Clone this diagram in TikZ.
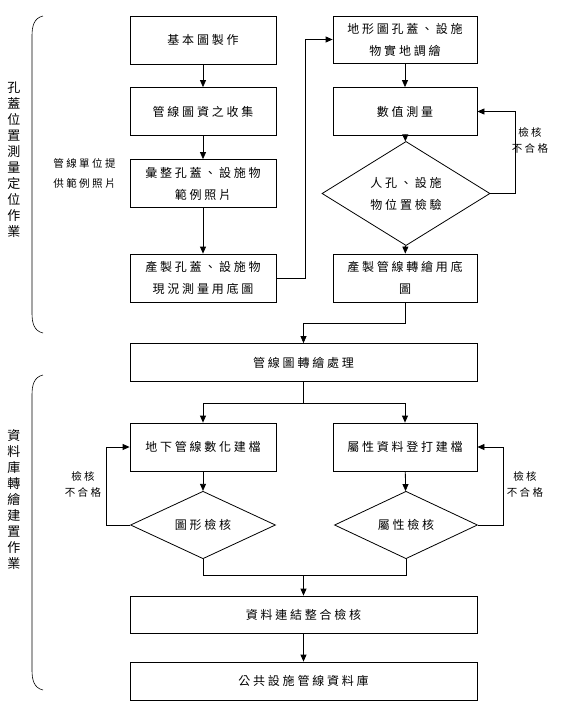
\documentclass[tikz,border=0pt]{standalone}
\usepackage{fontspec}
\newfontfamily\cjk[LetterSpace=23]{Noto Sans CJK TC}
\usetikzlibrary{shapes.geometric,arrows.meta}
\begin{document}
\begin{tikzpicture}[x=1pt, y=-1pt, line width=0.8pt,
  >={Triangle[length=7pt,width=6pt]},
  box/.style={draw, rectangle, minimum width=146pt, minimum height=48pt, inner sep=0pt, align=center, font=\cjk\fontsize{12}{22}\selectfont},
  wbox/.style={box, minimum width=347pt, minimum height=38pt},
  chk/.style={draw, diamond, inner sep=0pt, align=center, font=\cjk\fontsize{12}{22}\selectfont},
  note/.style={align=center, inner sep=0pt, font=\cjk\fontsize{10.5}{16}\selectfont},
  side/.style={align=center, inner sep=0pt, font=\cjk\fontsize{13}{16}\selectfont}]
\useasboundingbox (0,0) rectangle (561,710);
\node[box] (jbt) at (203,40){基本圖製作};
\node[box] (gxzl) at (203,111.5){管線圖資之收集};
\node[box] (fltp) at (203,183.5){彙整孔蓋、設施物\\範例照片};
\node[box] (xkdt) at (203,278){產製孔蓋、設施物\\現況測量用底圖};
\node[box, minimum width=144pt, minimum height=47pt] (dxt) at (405,39.5){地形圖孔蓋、設施\\物實地調繪};
\node[box, minimum width=144pt] (szcl) at (405,111.5){數值測量};
\node[chk, minimum width=168pt, minimum height=71pt] (wzjy) at (406,193.5){人孔、設施\\物位置檢驗};
\node[box, minimum width=144pt] (zhdt) at (405,278){產製管線轉繪用底\\圖};
\draw[->](jbt) -- (gxzl);
\draw[->](gxzl) -- (fltp);
\draw[->](fltp) -- (xkdt);
\coordinate (c1) at (305,278);
\draw[->](xkdt.east) -- (c1) |- (dxt.west);
\draw[->](dxt) -- (szcl);
\draw[->](szcl) -- (wzjy);
\draw[->](wzjy) -- (zhdt);
\coordinate (c2) at (515,193.5);
\draw[->](wzjy.east) -- (c2) |- (szcl.east);
\node[note] (bhg1) at (530,140){檢核\\不合格};
\node[note, font=\cjk\fontsize{10.5}{20}\selectfont] (tgzp) at (84.5,173){管線單位提\\供範例照片};
\node[wbox] (zhcl) at (303.5,362.5){管線圖轉繪處理};
\draw[->](zhdt.south) -- ++(0,21) -| (zhcl.north);
\node[box] (szjd) at (203,447){地下管線數化建檔};
\node[box, minimum width=144pt] (sxjd) at (405,447){屬性資料登打建檔};
\coordinate (c4) at (303.5,403);
\draw(zhcl) -- (c4);
\draw[->](c4) -| (szjd.north);
\draw[->](c4) -| (sxjd.north);
\node[chk, minimum width=145pt, minimum height=60pt] (txjh) at (203,525){圖形檢核};
\node[chk, minimum width=143pt, minimum height=60pt] (sxjh) at (406,525){屬性檢核};
\draw[->](szjd) -- (txjh);
\draw[->](sxjd) -- (sxjh);
\coordinate (c5) at (106,525);
\draw[->](txjh.west) -- (c5) |- (szjd.west);
\coordinate (c6) at (503,525);
\draw[->](sxjh.east) -- (c6) |- (sxjd.east);
\node[note] (bhg2) at (83,484){檢核\\不合格};
\node[note] (bhg3) at (525,484){檢核\\不合格};
\node[wbox, minimum height=37pt] (ljjh) at (303.5,614.5){資料連結整合檢核};
\node[wbox] (zlk) at (303.5,681){公共設施管線資料庫};
\coordinate (c7) at (303.5,575);
\draw(txjh.south) |- (c7);
\draw(sxjh.south) |- (c7);
\draw[->](c7) -- (ljjh);
\draw[->](ljjh) -- (zlk);
\draw[line width=0.6pt](43,16) .. controls (34,18) and (32,26) .. (32,36) -- (32,313) .. controls (32,323) and (34,331) .. (43,333);
\draw[line width=0.6pt](43,375) .. controls (34,377) and (32,385) .. (32,395) -- (32,670) .. controls (32,680) and (34,688) .. (43,690);
\node[side] (lbl1) at (14,160){孔\\蓋\\位\\置\\測\\量\\定\\位\\作\\業};
\node[side] (lbl2) at (14,500){資\\料\\庫\\轉\\繪\\建\\置\\作\\業};
\end{tikzpicture}
\end{document}
